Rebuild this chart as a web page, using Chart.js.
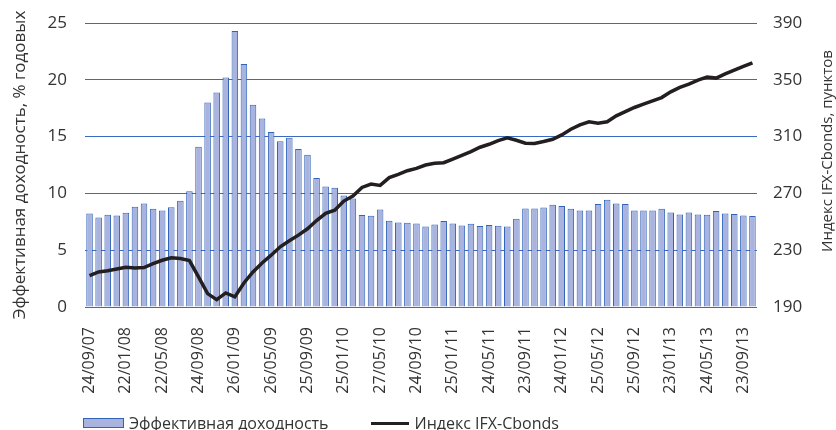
<!DOCTYPE html>
<html>
<head>
<meta charset="utf-8">
<script src="https://cdn.jsdelivr.net/npm/chart.js@4.4.0/dist/chart.umd.min.js"></script>
<style>
  body { margin: 0; background: #fff; }
  #wrap { position: relative; width: 836px; height: 430px; }
  #legend { position: absolute; left: 83px; top: 412px; font: 16px "Open Sans", sans-serif; color: #333; display: flex; align-items: center; }
  .item { display: flex; align-items: center; margin-right: 42px; }
  .box { width: 39px; height: 8px; background: #a9b3de; border: 1px solid #2f64b8; margin-right: 5px; }
  .ln { width: 38px; height: 3px; background: #231f20; margin-right: 6px; }
</style>
</head>
<body>
<div id="wrap">
  <canvas id="chart" width="836" height="430"></canvas>
  <div id="legend">
    <div class="item"><div class="box"></div>Эффективная доходность</div>
    <div class="item"><div class="ln"></div>Индекс IFX-Cbonds</div>
  </div>
</div>
<script>
// tick labels, one every 4 periods
const tickLabels = ['24/09/07', '22/01/08', '22/05/08', '24/09/08', '26/01/09', '26/05/09', '25/09/09',
  '25/01/10', '27/05/10', '24/09/10', '25/01/11', '24/05/11', '23/09/11', '24/01/12', '25/05/12',
  '25/09/12', '23/01/13', '24/05/13', '23/09/13'];

// effective yield, % per year
const yieldValues = [8.24, 7.88, 8.12, 8.06, 8.29, 8.82, 9.12, 8.65, 8.5, 8.79,
  9.35, 10.18, 14.1, 18.0, 18.88, 20.2, 24.3, 21.4, 17.8, 16.6,
  15.4, 14.6, 14.9, 13.9, 13.4, 11.35, 10.6, 10.5, 9.82, 9.56,
  8.09, 8.03, 8.59, 7.59, 7.44, 7.41, 7.35, 7.09, 7.26, 7.56,
  7.35, 7.18, 7.32, 7.12, 7.21, 7.15, 7.09, 7.76, 8.68, 8.68,
  8.76, 9.0, 8.88, 8.65, 8.5, 8.5, 9.06, 9.44, 9.12, 9.06,
  8.5, 8.5, 8.5, 8.65, 8.32, 8.15, 8.32, 8.15, 8.12, 8.44,
  8.24, 8.18, 8.06, 8.0];

// IFX-Cbonds index, points
const indexValues = [212.1, 214.7, 215.6, 216.8, 218, 217.5, 217.8, 220.6, 222.9, 224.6,
  224.1, 222.7, 211.2, 199.4, 195.2, 199.9, 197.1, 206.9, 214.7, 221,
  226.5, 232.4, 236.6, 240.6, 245.1, 250.9, 255.9, 258.2, 264.6, 268.1,
  274.2, 276.6, 275.6, 281.1, 283.4, 286, 287.6, 290, 291.2, 291.6,
  294.2, 296.8, 299.4, 302.5, 304.6, 307.2, 309.1, 307.4, 305.3, 305.1,
  306.5, 308.1, 311.2, 315.2, 318.2, 320.4, 319.4, 320.4, 324.6, 327.6,
  330.5, 332.8, 335.2, 337.5, 341.5, 344.6, 346.9, 349.8, 351.9, 351.2,
  354.2, 356.8, 359.4, 362];

const labels = yieldValues.map((v, i) => (i % 4 === 0 ? tickLabels[i / 4] || '' : ''));

const FONT = '"Open Sans", sans-serif';
const TXT = '#333';

// right axis title reads bottom-to-top in the original
const rightTitle = {
  id: 'rightTitle',
  afterDraw(chart) {
    const ctx = chart.ctx;
    ctx.save();
    ctx.translate(828, 151);
    ctx.rotate(-Math.PI / 2);
    ctx.font = '15px ' + FONT;
    ctx.fillStyle = TXT;
    ctx.textAlign = 'center';
    ctx.textBaseline = 'middle';
    ctx.fillText('Индекс IFX-Cbonds, пунктов', 0, 0);
    ctx.restore();
  }
};

new Chart(document.getElementById('chart'), {
  data: {
    labels: labels,
    datasets: [
      {
        type: 'line',
        label: 'Индекс IFX-Cbonds',
        data: indexValues,
        yAxisID: 'y2',
        borderColor: '#231f20',
        borderWidth: 3.5,
        pointRadius: 0,
        order: 0
      },
      {
        type: 'bar',
        label: 'Эффективная доходность',
        data: yieldValues,
        yAxisID: 'y',
        backgroundColor: '#a9b3de',
        borderColor: '#2f64b8',
        borderWidth: 1,
        barPercentage: 0.72,
        categoryPercentage: 1,
        order: 1
      }
    ]
  },
  options: {
    responsive: false,
    animation: false,
    layout: { padding: { top: 23, bottom: 30, left: 0, right: 0 } },
    plugins: { legend: { display: false }, tooltip: { enabled: false } },
    scales: {
      x: {
        offset: true,
        grid: { display: false },
        border: { display: false },
        ticks: {
          autoSkip: false,
          minRotation: 90,
          maxRotation: 90,
          padding: 12,
          color: TXT,
          font: { family: FONT, size: 16 }
        },
        afterFit: (s) => { s.height = 93; }
      },
      y: {
        position: 'left',
        min: 0,
        max: 25,
        ticks: { stepSize: 5, padding: 18, color: TXT, font: { family: FONT, size: 17 } },
        grid: { display: true, color: '#3a6bc0', lineWidth: 1, drawTicks: false },
        border: { display: false },
        title: {
          display: true,
          text: 'Эффективная доходность, % годовых',
          color: TXT,
          font: { family: FONT, size: 17 },
          padding: { top: 10, bottom: 0 }
        },
        // tick padding would otherwise push the plot top down
        afterFit: (s) => { s.width = 85; s.paddingTop = 4; s.paddingBottom = 4; }
      },
      y2: {
        position: 'right',
        min: 190,
        max: 390,
        ticks: { stepSize: 40, padding: 16, color: TXT, font: { family: FONT, size: 17 } },
        grid: { display: false, drawTicks: false },
        border: { display: false },
        afterFit: (s) => { s.width = 79; s.paddingTop = 4; s.paddingBottom = 4; }
      }
    }
  },
  plugins: [rightTitle]
});
</script>
</body>
</html>
